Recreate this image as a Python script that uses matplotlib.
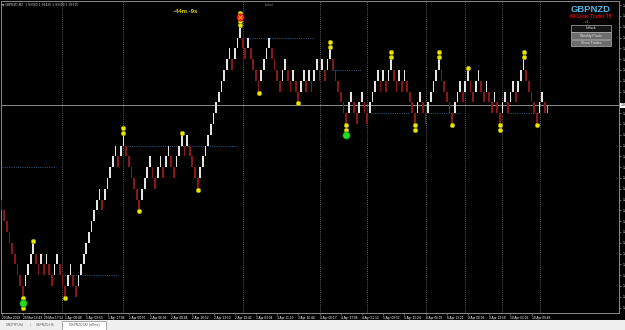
import matplotlib
matplotlib.use("Agg")
import matplotlib.pyplot as plt
from matplotlib.patches import Rectangle

# renko bricks (GBPNZD M2 offline), level = brick index above the lowest brick
box = 0.0010
base = 1.9150
brick_level = [9, 8, 7, 6, 5, 4, 3, 2, 1,
               2, 3, 4, 5,
               4, 3, 4, 3, 4, 3, 2, 3, 4, 3, 2, 1,
               2, 3, 2, 1,
               2, 3, 4, 5, 6, 7, 8, 9, 10, 9,
               10, 11, 12, 13, 14, 13, 14, 15,
               14, 13, 12, 11, 10, 9,
               10, 11, 12, 13, 12, 11, 12, 13, 12, 13, 14, 13, 12,
               13, 14, 15, 14, 15, 14, 13, 12, 11,
               12, 13, 14, 15, 16, 17, 18, 19, 20, 21, 22, 23, 22,
               23, 24, 25, 24, 23, 24, 23, 22, 21, 20,
               21, 22, 23, 24, 23, 22, 21, 20, 21, 22, 21, 20, 21, 20, 19,
               20, 21, 20, 21, 20, 21, 22, 21, 22, 21, 22, 23,
               22, 21, 20, 19, 18, 17,
               18, 19, 18, 17, 18, 19, 18, 17, 18, 19, 20, 21, 20, 21, 20, 21, 22,
               21, 20, 21, 20, 21, 20, 19, 18, 17,
               18, 19, 18, 17, 18, 19, 20, 21, 22,
               21, 20, 19, 18, 17,
               18, 19, 20, 19, 20, 21, 20, 19, 20, 21, 20, 19, 20, 19, 18, 19, 18, 17,
               18, 19, 18, 19, 20, 19, 20, 21, 22,
               21, 20, 19, 18, 17,
               18, 19, 18]
bid = 1.93375

# fractal dots / arrows
high_bars = [12, 46, 68, 90, 124, 147, 165, 176, 197]
high_dots = [1, 2, 1, 3, 2, 2, 2, 1, 2]
low_bars = [8, 24, 52, 74, 97, 112, 130, 156, 170, 188, 202]
low_dots = [2, 1, 1, 1, 1, 1, 2, 2, 1, 2, 1]
sell_bar = 90
buy_bars = [8, 130]

# dotted levels
sr_level = [13, 3, 15, 25, 22, 18, 18, 18]
sr_from = [0, 23, 47.5, 91.3, 124.2, 139.2, 160.8, 191]
sr_to = [20.4, 43.8, 89.1, 117.7, 136.2, 154.3, 173.2, 202.3]

day_breaks = [23, 46, 91, 120, 138, 160, 175, 189, 203]

label_bars = list(range(0, 201, 8))
time_labels = ["29 Mar 2019", "29 Mar 16:43", "29 Mar 17:52", "1 Apr 00:48", "1 Apr 09:53",
               "1 Apr 17:06", "2 Apr 00:06", "2 Apr 06:08", "2 Apr 08:48", "2 Apr 10:52",
               "2 Apr 13:10", "2 Apr 19:42", "3 Apr 03:04", "3 Apr 11:19", "3 Apr 16:44",
               "4 Apr 06:17", "4 Apr 17:06", "4 Apr 21:12", "5 Apr 09:52", "5 Apr 15:24",
               "8 Apr 06:06", "8 Apr 13:21", "9 Apr 00:08", "9 Apr 13:58", "10 Apr 01:29",
               "10 Apr 09:48"]

W, H = 625, 330
fig = plt.figure(figsize=(6.25, 3.3), dpi=100, facecolor="black")


def fx(x):
    return x / W


def fy(y):
    return 1 - y / H


ax = fig.add_axes([fx(1), fy(312.7), (619.3 - 1) / W, (312.7 - 1) / H], facecolor="black")
ax.set_xlim(-0.2, 233.1)
ax.set_ylim(base - 0.48 * box, base + 28.38 * box)
px = box / 10.8  # one pixel in price

bars = list(range(len(brick_level)))
colors = []
for i, lv in enumerate(brick_level):
    up = i > 0 and lv > brick_level[i - 1]
    colors.append("#e4e4e4" if up else "#8a1616")
ax.bar(bars, [box] * len(bars), bottom=[base + lv * box for lv in brick_level],
       width=0.65, color=colors, linewidth=0, zorder=3)
# forming brick
last = len(bars)
ax.bar([last], [bid - (base + 18 * box)], bottom=base + 18 * box, width=0.65,
       color="#a8a8a8", linewidth=0, zorder=3)

# period separators, bid line, dotted levels
for b in day_breaks:
    ax.axvline(b, color="#7a7a7a", lw=0.6, ls=(0, (1, 1.5)), zorder=1)
ax.axhline(bid, color="#8c8c8c", lw=0.7, zorder=2)
for lv, a, b in zip(sr_level, sr_from, sr_to):
    ax.plot([a, b], [base + lv * box] * 2, color="#2a4d6e", lw=0.8, ls=(0, (1, 1)), zorder=2)

# fractal dots
yell = dict(marker="o", ms=3.3, mfc="#e8e800", mec="#9a9000", mew=0.4, ls="none", zorder=5)
for b, n in zip(high_bars, high_dots):
    top = base + (brick_level[b] + 1) * box
    if b == sell_bar:
        offs = [1.7, 6.0, 13.4]
    else:
        offs = [1.8 + 5 * k for k in range(n)]
    ax.plot([b] * len(offs), [top + o * px for o in offs], **yell)
    if b == sell_bar:
        ax.plot([b], [top + 9.6 * px], marker="o", ms=5.2, mfc="#ff1c1c", mec="#b00000",
                mew=0.5, ls="none", zorder=6)
        ax.plot([b], [top + 9.6 * px], marker="x", ms=2.5, mec="#ffd000", mew=0.6,
                ls="none", zorder=7)
for b, n in zip(low_bars, low_dots):
    bot = base + brick_level[b] * box
    if b == buy_bars[0]:
        offs, g = [1.0, 11.5], 6.5
    elif b in buy_bars:
        offs, g = [1.0, 6.0], 10.6
    else:
        offs, g = [1.0 + 5 * k for k in range(n)], None
    ax.plot([b] * len(offs), [bot - o * px for o in offs], **yell)
    if g is not None:
        ax.plot([b], [bot - g * px], marker="o", ms=5.2, mfc="#22dd22", mec="#0c8c0c",
                mew=0.5, ls="none", zorder=6)

# axes styling
for s in ax.spines.values():
    s.set_color("#8a8a8a")
    s.set_linewidth(0.7)
ax.set_xticks(label_bars)
ax.set_xticklabels(time_labels, ha="left", fontsize=2.3, color="white",
                   fontfamily="Liberation Sans")
ax.tick_params(axis="x", length=1.5, width=0.5, color="#8a8a8a", pad=1.2)
ax.yaxis.tick_right()
levels = [n for n in range(0, 29) if abs(base + n * box - bid) > 4 * px]
ax.set_yticks([base + n * box for n in levels])
ax.set_yticklabels(["%.5f" % (base + n * box) for n in levels], fontsize=2.4,
                   color="white", fontfamily="Liberation Sans")
ax.tick_params(axis="y", length=1.5, width=0.5, color="#8a8a8a", pad=1)
ax.text(1.002, bid, "%.5f" % bid, transform=ax.get_yaxis_transform(), fontsize=2.4,
        color="black", va="center", ha="left", fontfamily="Liberation Sans",
        bbox=dict(boxstyle="square,pad=0.15", fc="white", ec="white", lw=0))

# on-chart texts
fig.text(fx(2), fy(5), "\u25bc GBPNZD,M2  1.93380 1.93420 1.93300 1.93375", fontsize=2.2,
         color="#d0d0d0", va="center", fontfamily="DejaVu Sans")
fig.text(fx(173), fy(11.3), "-44m -9s", fontsize=4.2, color="#dcdc00", fontweight="bold",
         va="center", fontfamily="Liberation Sans")
fig.text(fx(265), fy(5.5), "Label", fontsize=2.6, color="#7a7a7a", va="center",
         fontfamily="Liberation Sans")
fig.text(fx(591), fy(9), "GBPNZD", fontsize=6.8, color="#56b4e6", fontweight="bold",
         ha="center", va="center", fontfamily="Liberation Sans")
fig.text(fx(590.5), fy(16.8), "89 Cycle Trader T8", fontsize=3.3, color="#ee0000",
         fontweight="bold", ha="center", va="center", fontfamily="Liberation Sans")
fig.text(fx(586), fy(22.3), "- v1 -", fontsize=2.2, color="#e0e000", ha="center",
         va="center", fontfamily="Liberation Sans")
buttons = ["Unlock", "Weekly Pivots", "Show Trades"]
btn_face = ["#141414", "#6c6c6c", "#6c6c6c"]
for k, (t, fc) in enumerate(zip(buttons, btn_face)):
    y0 = 25 + 7.3 * k
    fig.patches.append(Rectangle((fx(571), fy(y0 + 6.6)), 40 / W, 6.6 / H,
                                 transform=fig.transFigure, fc=fc, ec="#b4b4b4", lw=0.5))
    fig.text(fx(591), fy(y0 + 3.4), t, fontsize=2.5, color="#e8e8e8", ha="center",
             va="center", fontfamily="Liberation Sans")

# tab bar
fig.patches.append(Rectangle((0, 0), 1, 10 / H, transform=fig.transFigure,
                             fc="#efefef", ec="none"))
fig.patches.append(Rectangle((fx(62), fy(329.5)), 44 / W, 8.5 / H, transform=fig.transFigure,
                             fc="white", ec="#8c8c8c", lw=0.5))
for t, x in zip(["USDTRY,H4", "GBPNZD,H4", "GBPNZD,M2 (offline)"], [15, 45, 84]):
    fig.text(fx(x), fy(325), t, fontsize=2.3, color="#5a5a5a", ha="center", va="center",
             fontfamily="Liberation Sans")
fig.text(fx(30.5), fy(325), "|", fontsize=2.5, color="#a0a0a0", ha="center", va="center")

fig.savefig("out.png", dpi=100, facecolor="black")
